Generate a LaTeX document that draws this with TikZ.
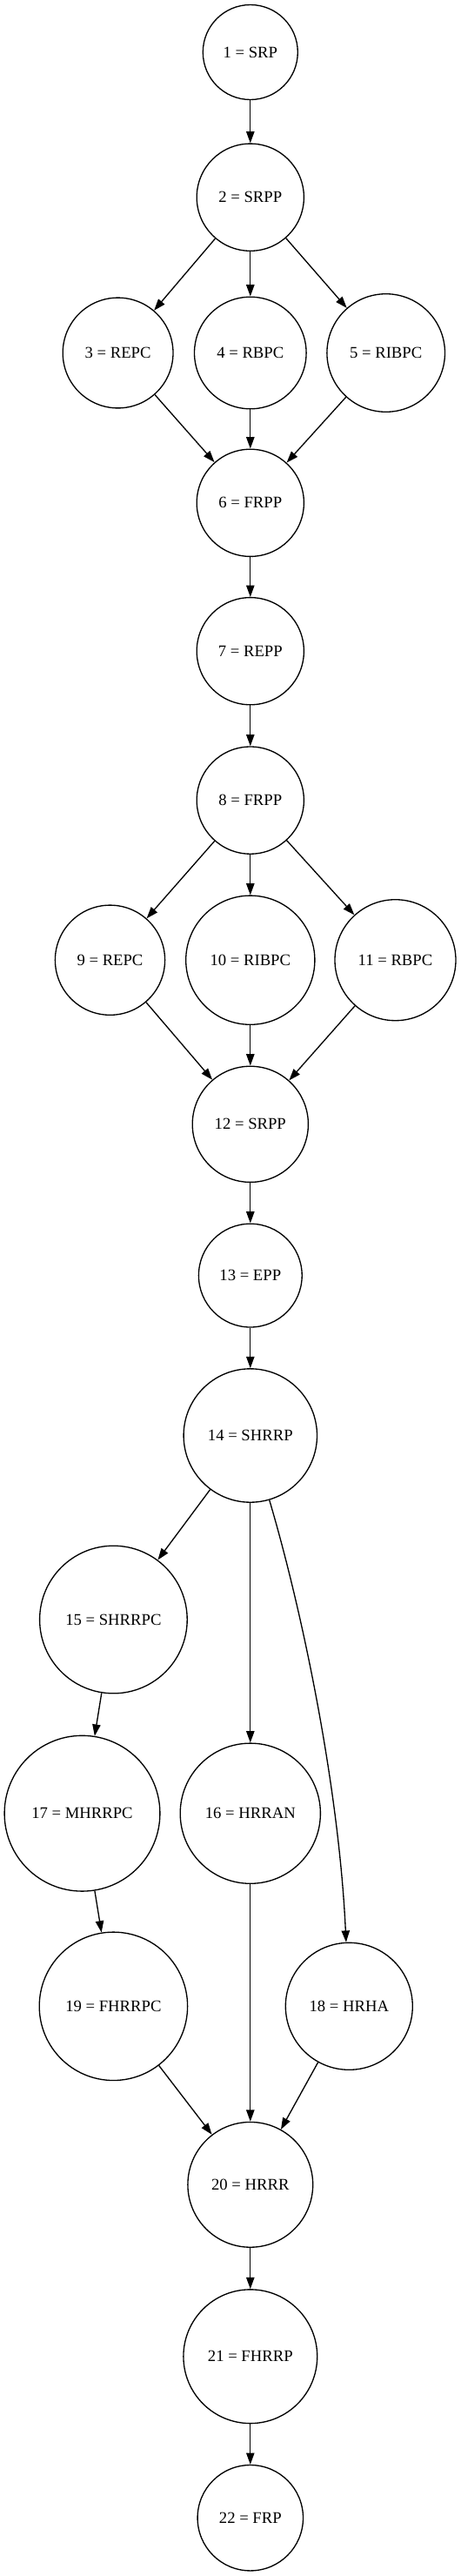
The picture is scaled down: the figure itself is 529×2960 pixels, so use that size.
\documentclass[tikz,border=0pt]{standalone}
\usepackage{fontspec}
\setmainfont{Liberation Serif}
\usetikzlibrary{arrows.meta}
\begin{document}
\begin{tikzpicture}[x=0.75pt,y=-0.75pt,
  nd/.style={circle,draw,line width=1pt,inner sep=0pt,minimum size=#1,font=\fontsize{14pt}{16pt}\selectfont},
  edge/.style={line width=1pt,-{Triangle[length=10pt,width=7pt]}}]
\useasboundingbox (0,0) rectangle (529,2960);
\node[nd=81.75pt]  (n1)  at (287.8,60)     {1 = SRP};
\node[nd=92.4pt]   (n2)  at (287.8,226.7)  {2 = SRPP};
\node[nd=95.1pt]   (n3)  at (135.6,405.5)  {3 = REPC};
\node[nd=96.45pt]  (n4)  at (287.8,405.5)  {4 = RBPC};
\node[nd=101.7pt]  (n5)  at (443.7,405.5)  {5 = RIBPC};
\node[nd=92.4pt]   (n6)  at (287.8,577.8)  {6 = FRPP};
\node[nd=92.4pt]   (n7)  at (287.8,748.2)  {7 = REPP};
\node[nd=92.4pt]   (n8)  at (287.8,919.6)  {8 = FRPP};
\node[nd=94.65pt]  (n9)  at (126.5,1103.2) {9 = REPC};
\node[nd=111.15pt] (n10) at (287.8,1103.2) {10 = RIBPC};
\node[nd=104.25pt] (n11) at (454.5,1103.2) {11 = RBPC};
\node[nd=99.9pt]   (n12) at (287.8,1291.8) {12 = SRPP};
\node[nd=89.1pt]   (n13) at (287.8,1465.6) {13 = EPP};
\node[nd=115.05pt] (n14) at (287.8,1649.5) {14 = SHRRP};
\node[nd=127.2pt]  (n15) at (130.4,1861)   {15 = SHRRPC};
\node[nd=120.9pt]  (n16) at (287.8,2083.7) {16 = HRRAN};
\node[nd=134.1pt]  (n17) at (94.5,2083.7)  {17 = MHRRPC};
\node[nd=109.5pt]  (n18) at (401.3,2305.3) {18 = HRHA};
\node[nd=127.8pt]  (n19) at (130.4,2305.3) {19 = FHRRPC};
\node[nd=107.85pt] (n20) at (287.8,2510.3) {20 = HRRR};
\node[nd=115.35pt] (n21) at (287.8,2707.7) {21 = FHRRP};
\node[nd=91.05pt]  (n22) at (287.8,2893.2) {22 = FRP};
\draw[edge] (n1) -- (n2);
\draw[edge] (n2) -- (n3);
\draw[edge] (n2) -- (n4);
\draw[edge] (n2) -- (n5);
\draw[edge] (n3) -- (n6);
\draw[edge] (n4) -- (n6);
\draw[edge] (n5) -- (n6);
\draw[edge] (n6) -- (n7);
\draw[edge] (n7) -- (n8);
\draw[edge] (n8) -- (n9);
\draw[edge] (n8) -- (n10);
\draw[edge] (n8) -- (n11);
\draw[edge] (n9) -- (n12);
\draw[edge] (n10) -- (n12);
\draw[edge] (n11) -- (n12);
\draw[edge] (n12) -- (n13);
\draw[edge] (n13) -- (n14);
\draw[edge] (n14) -- (n15);
\draw[edge] (n14) -- (n16);
\draw[edge] (n14) .. controls (350,1860) and (390,2060) .. (n18);
\draw[edge] (n15) -- (n17);
\draw[edge] (n17) -- (n19);
\draw[edge] (n16) -- (n20);
\draw[edge] (n19) -- (n20);
\draw[edge] (n18) -- (n20);
\draw[edge] (n20) -- (n21);
\draw[edge] (n21) -- (n22);
\end{tikzpicture}
\end{document}
